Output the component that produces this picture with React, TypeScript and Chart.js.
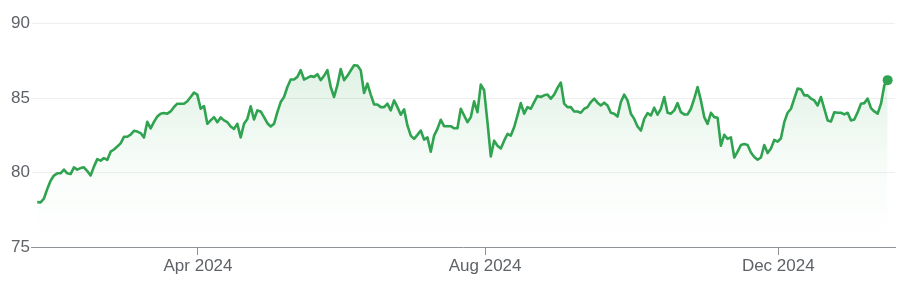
import React, { useEffect, useRef } from "react";
import { Chart, registerables } from "chart.js";
Chart.register(...registerables);

const prices: number[] = [
  78.02, 78.0, 78.25, 78.9, 79.45, 79.8, 79.95, 79.95, 80.2, 79.95,
  79.9, 80.35, 80.2, 80.3, 80.35, 80.1, 79.8, 80.4, 80.9, 80.8,
  80.97, 80.85, 81.4, 81.55, 81.75, 81.96, 82.4, 82.4, 82.55, 82.8,
  82.75, 82.65, 82.35, 83.4, 82.97, 83.4, 83.76, 83.95, 84.0, 83.95,
  84.1, 84.4, 84.62, 84.62, 84.62, 84.78, 85.07, 85.36, 85.23, 84.28,
  84.46, 83.27, 83.5, 83.72, 83.38, 83.7, 83.5, 83.38, 83.09, 82.93,
  83.27, 82.36, 83.27, 83.6, 84.44, 83.56, 84.17, 84.1, 83.72, 83.31,
  83.09, 83.27, 84.05, 84.73, 85.07, 85.74, 86.24, 86.24, 86.42, 86.87,
  86.24, 86.35, 86.47, 86.42,
  86.6, 86.2, 86.49, 86.87, 85.74, 85.07, 85.86, 86.94, 86.2, 86.49,
  86.85, 87.2, 87.18, 86.87, 85.34, 85.97, 85.23, 84.57, 84.57, 84.39, 84.39,
  84.62, 84.17, 84.84, 84.39, 83.88, 84.24, 83.16, 82.48, 82.26, 82.53,
  82.82, 82.21, 82.36, 81.4, 82.48, 82.93, 83.54, 83.11, 83.11, 83.11,
  82.97, 82.97, 84.28,
  83.83, 83.38, 83.72, 84.78, 84.05, 85.9, 85.52, 83.38, 81.08, 82.14,
  81.8, 81.62, 82.14, 82.59, 82.48, 83.04, 83.83, 84.66, 83.95, 84.39,
  84.28, 84.73, 85.14, 85.07, 85.18, 85.23, 84.96, 85.23, 85.68, 86.04,
  84.62, 84.39, 84.39, 84.1, 84.1, 84.01, 84.28, 84.39, 84.73, 84.96,
  84.69, 84.5, 84.69,
  84.5, 84.01, 83.95, 83.76, 84.73, 85.23, 84.84, 83.95, 83.6, 83.09,
  82.82, 83.6, 83.99, 83.83, 84.35, 83.88, 84.28, 85.07, 84.01, 83.95,
  84.17, 84.66, 84.05, 83.9, 83.9, 84.28, 84.96, 85.74, 84.84, 83.72,
  83.27, 84.01, 83.72, 83.68, 81.8, 82.53, 82.26, 82.36, 81.01, 81.4,
  81.85, 81.92, 81.85, 81.35, 81.05,
  80.86, 81.01, 81.85, 81.31, 81.62, 82.19, 82.07, 82.3, 83.38, 84.01,
  84.28, 84.96, 85.63, 85.59, 85.18, 85.18, 84.96, 84.84, 84.5, 85.07,
  84.28, 83.5, 83.43, 84.05, 84.01, 84.01, 83.9, 84.01, 83.5, 83.56,
  84.05, 84.62, 84.66, 84.96, 84.32, 84.1, 83.95, 84.62, 85.86, 86.2,
];

const xTickLabels: string[] = ["Apr 2024", "Aug 2024", "Dec 2024"];
const xTickIndex: number[] = [48.2, 134.3, 222.2];
const yTicks: number[] = [75, 80, 85, 90];

const GREEN = "#2fa34f";
const LABEL = "#5f6368";
const FONT = { family: "Arial, 'Liberation Sans', sans-serif", size: 17 };

export default function App() {
  const ref = useRef<HTMLCanvasElement>(null);
  useEffect(() => {
    const canvas = ref.current!;
    const last = prices.length - 1;
    const chart = new Chart(canvas, {
      type: "line",
      data: {
        datasets: [
          {
            data: prices.map((v, i) => ({ x: i, y: v })),
            borderColor: GREEN,
            borderWidth: 2.6,
            borderJoinStyle: "round",
            pointRadius: prices.map((_, i) => (i === last ? 5 : 0)),
            pointHoverRadius: 0,
            pointBackgroundColor: GREEN,
            pointBorderWidth: 0,
            tension: 0,
            fill: "start",
            backgroundColor: (ctx: any) => {
              const c = ctx.chart;
              const area = c.chartArea;
              if (!area) return "rgba(52,168,83,0.08)";
              const g = c.ctx.createLinearGradient(0, area.top, 0, area.bottom);
              g.addColorStop(0, "rgba(52,168,83,0.2)");
              g.addColorStop(0.66, "rgba(52,168,83,0.03)");
              g.addColorStop(1, "rgba(52,168,83,0)");
              return g;
            },
          } as any,
        ],
      },
      options: {
        responsive: false,
        animation: false,
        layout: { padding: { left: 9, right: 8, top: 23.5, bottom: 23.5 } },
        plugins: { legend: { display: false }, tooltip: { enabled: false } },
        scales: {
          x: {
            type: "linear",
            min: -1.6,
            max: last + 2.2,
            afterBuildTicks: (s: any) => {
              s.ticks = xTickIndex.map((v) => ({ value: v }));
            },
            ticks: {
              autoSkip: false,
              maxRotation: 0,
              color: LABEL,
              font: FONT,
              padding: 1,
              callback: (v: any) => {
                const k = xTickIndex.indexOf(Number(v));
                return k >= 0 ? xTickLabels[k] : "";
              },
            },
            grid: {
              drawOnChartArea: false,
              drawTicks: true,
              tickLength: 8,
              color: "#8f9499",
            },
            border: { display: true, color: "#8f9499", width: 1 },
          },
          y: {
            min: 75,
            max: 90,
            afterBuildTicks: (s: any) => {
              s.ticks = yTicks.map((v) => ({ value: v }));
            },
            ticks: { color: LABEL, font: FONT, padding: 2 },
            grid: { color: "#eeeeee", drawTicks: false },
            border: { display: false },
          },
        },
      } as any,
    });
    return () => chart.destroy();
  }, []);
  return (
    <div style={{ position: "fixed", left: 0, top: 0, width: 903, height: 301, background: "#fff" }}>
      <canvas ref={ref} width={903} height={301} style={{ display: "block" }} />
    </div>
  );
}
